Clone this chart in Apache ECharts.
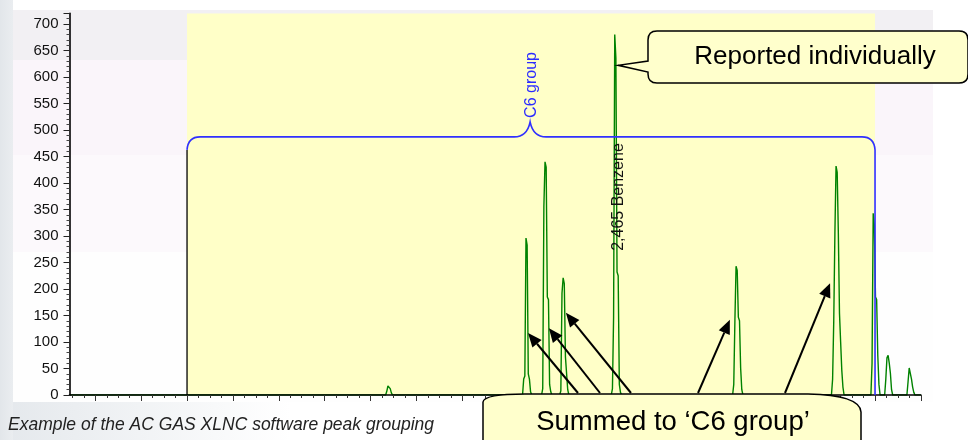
<!DOCTYPE html>
<html>
<head>
<meta charset="utf-8">
<script src="https://cdn.jsdelivr.net/npm/echarts@6/dist/echarts.min.js"></script>
<style>
  html, body { margin: 0; padding: 0; background: #fff; }
  #chart { width: 968px; height: 440px; }
</style>
</head>
<body>
<div id="chart"></div>
<script>
// Retention times (min) of the detected peaks
const peakTimes = [1.481, 2.078, 2.161, 2.240, 2.465, 2.994, 3.430, 3.592, 3.657, 3.749];
// Detector response around each peak, one sample every 0.005 min
const peakProfiles = [
  [0, 7, 17, 18, 12, 4, 0],
  [0, 30, 36, 296, 283, 40, 30, 6, 0],
  [0, 12, 355, 440, 430, 185, 180, 20, 6, 0],
  [0, 8, 192, 221, 210, 72, 70, 10, 0],
  [0, 12, 147, 680, 636, 232, 225, 20, 5, 0],
  [0, 20, 141, 243, 235, 147, 140, 51, 10, 0],
  [0, 30, 140, 305, 432, 420, 305, 154, 100, 47, 15, 0],
  [0, 60, 343, 321, 185, 180, 75, 20, 0],
  [0, 30, 70, 75, 60, 41, 10, 0],
  [0, 25, 51, 48, 30, 15, 5, 0]
];
// Index of the apex sample inside each profile
const apexIndex = [3, 3, 3, 3, 3, 3, 4, 2, 3, 2];
const sampleStep = 0.005;

// Run window (min) and response range
const timeRange = [0.0875, 3.8];
const responseMax = 720;
const yTicks = [0, 50, 100, 150, 200, 250, 300, 350, 400, 450, 500, 550, 600, 650, 700];

// Peak group window and its bracket
const groupName = 'C6 group';
const groupWindow = [0.6, 3.6];
const groupBracketLevel = 487;
const groupLabelTime = 2.096;

// Individually reported compound
const namedPeak = { time: 2.465, name: '2,465 Benzene', labelBase: 272 };
const namedPeakPointer = [2.48, 622];

// Peaks summed into the group, pointed at by the arrows
const summedPointers = [[2.087, 117], [2.178, 126], [2.252, 155], [2.967, 142], [3.404, 211]];

const calloutTop = 'Reported individually';
const calloutBottom = 'Summed to \u2018C6 group\u2019';
const caption = 'Example of the AC GAS XLNC software peak grouping';

// Assemble the trace from the peak samples
const trace = [[timeRange[0], 0]];
peakTimes.forEach((t, i) => {
  peakProfiles[i].forEach((v, j) => {
    trace.push([+(t + (j - apexIndex[i]) * sampleStep).toFixed(4), v]);
  });
});
trace.push([timeRange[1], 0]);

// Plot frame
const plotLeft = 69.5, plotRight = 920.9, plotTop = 13.4, plotBottom = 395;
const W = 968, H = 440;
const pxPerMin = (plotRight - plotLeft) / (timeRange[1] - timeRange[0]);
const font = '"Liberation Sans", Arial, sans-serif';

const chart = echarts.init(document.getElementById('chart'), null, { renderer: 'canvas' });

function gridFrom(t0) {
  return { left: plotLeft + (t0 - timeRange[0]) * pxPerMin, right: W - plotRight, top: plotTop, bottom: H - plotBottom, containLabel: false };
}
function hGradient(stops) {
  return { type: 'linear', x: 0, y: 0, x2: 1, y2: 0, colorStops: stops.map(s => ({ offset: s[0], color: s[1] })) };
}

// Bracket, callouts, arrows and labels, laid out from data coordinates
function renderNotes(params, api) {
  const P = (t, v) => api.coord([t, v]);
  const xL = P(groupWindow[0], 0)[0], xR = P(groupWindow[1], 0)[0];
  const yB = P(0, groupBracketLevel)[1], y0 = P(0, 0)[1];
  const cx = P(groupLabelTime, 0)[0];
  const kids = [];

  kids.push({ type: 'line', shape: { x1: xL, y1: y0, x2: xL, y2: yB + 13 }, style: { stroke: '#000', lineWidth: 1.3 } });
  const bracket = [
    'M', xL, yB + 13, 'Q', xL + 1, yB, xL + 13, yB,
    'L', cx - 16, yB, 'Q', cx - 3, yB, cx, yB - 15, 'Q', cx + 3, yB, cx + 16, yB,
    'L', xR - 13, yB, 'Q', xR - 1, yB, xR, yB + 13, 'L', xR, y0
  ].join(' ');
  kids.push({ type: 'path', shape: { pathData: bracket }, style: { stroke: '#3030ff', lineWidth: 1.6, fill: null } });
  kids.push({ type: 'text', x: cx + 1, y: yB - 19, rotation: Math.PI / 2,
    style: { text: groupName, fill: '#2b2bff', font: '16px ' + font, align: 'left', verticalAlign: 'middle' } });

  const np = P(namedPeak.time, namedPeak.labelBase);
  kids.push({ type: 'text', x: np[0] + 4, y: np[1], rotation: Math.PI / 2,
    style: { text: namedPeak.name, fill: '#111', font: '16px ' + font, align: 'left', verticalAlign: 'middle' } });

  // top callout with pointer
  const tip = P(namedPeakPointer[0], namedPeakPointer[1]);
  const bx = 648, by = 31, bw = W - 648, bh = 52, r = 9;
  const callout = [
    'M', bx + r, by, 'L', bx + bw - r, by, 'Q', bx + bw, by, bx + bw, by + r,
    'L', bx + bw, by + bh - r, 'Q', bx + bw, by + bh, bx + bw - r, by + bh,
    'L', bx + r, by + bh, 'Q', bx, by + bh, bx, by + bh - r,
    'L', bx, 72, 'L', tip[0], tip[1], 'L', bx, 61,
    'L', bx, by + r, 'Q', bx, by, bx + r, by, 'Z'
  ].join(' ');
  kids.push({ type: 'path', shape: { pathData: callout }, style: { fill: '#ffffcc', stroke: '#000', lineWidth: 1.5 } });
  kids.push({ type: 'text', x: 815, y: 57,
    style: { text: calloutTop, fill: '#000', font: '26px ' + font, align: 'center', verticalAlign: 'middle' } });

  // bottom callout
  kids.push({ type: 'path', shape: { pathData: 'M 483 445 L 483 402 Q 484 394 525 394 L 808 394 Q 860 395 861 412 L 861 445 Z' },
    style: { fill: '#ffffcc', stroke: '#000', lineWidth: 1.5 } });
  kids.push({ type: 'text', x: 673, y: 422,
    style: { text: calloutBottom, fill: '#000', font: '27.5px ' + font, align: 'center', verticalAlign: 'middle' } });

  // arrows to the summed peaks
  const arrowStarts = [578, 600, 631, 698, 785];
  summedPointers.forEach((p, i) => {
    const [tx, ty] = P(p[0], p[1]);
    const sx = arrowStarts[i], sy = 393;
    const dx = tx - sx, dy = ty - sy, len = Math.hypot(dx, dy);
    const ux = dx / len, uy = dy / len, hl = 14, hw = 6;
    const hx = tx - ux * hl, hy = ty - uy * hl;
    kids.push({ type: 'line', shape: { x1: sx, y1: sy, x2: hx, y2: hy }, style: { stroke: '#000', lineWidth: 2 } });
    kids.push({ type: 'polygon', shape: { points: [[tx, ty], [hx - uy * hw, hy + ux * hw], [hx + uy * hw, hy - ux * hw]] },
      style: { fill: '#000' } });
  });

  kids.push({ type: 'text', x: 8, y: 425,
    style: { text: caption, fill: '#222', font: 'italic 17.5px ' + font, align: 'left', verticalAlign: 'middle' } });

  return { type: 'group', children: kids };
}

const backdrop = [];
backdrop.push({ type: 'rect', z: -20, shape: { x: 0, y: 402, width: W, height: H - 402 },
  style: { fill: hGradient([[0, '#e4e8ec'], [0.3, '#ffffff']]) } });
backdrop.push({ type: 'rect', z: -20, shape: { x: 0, y: 0, width: 13, height: H },
  style: { fill: hGradient([[0, '#e2e6ea'], [1, '#eaedf0']]) } });
[[10, 60, '#f2f0f3'], [60, 155, '#faf5fa'], [155, 252, '#fcf9fc'], [252, 402, '#fefefe']].forEach(b => {
  backdrop.push({ type: 'rect', z: -19, shape: { x: 13, y: b[0], width: 933 - 13, height: b[1] - b[0] }, style: { fill: b[2] } });
});

chart.setOption({
  animation: false,
  graphic: backdrop,
  grid: [gridFrom(timeRange[0]), gridFrom(0.1), gridFrom(0.2)],
  xAxis: [
    { type: 'value', gridIndex: 0, min: timeRange[0], max: timeRange[1], z: 10,
      axisLine: { show: true, lineStyle: { color: '#000', width: 1.6 } },
      axisTick: { show: false }, axisLabel: { show: false }, splitLine: { show: false } },
    { type: 'value', gridIndex: 1, min: 0.1, max: timeRange[1], interval: 0.05, z: 10,
      axisLine: { show: false }, axisTick: { show: true, length: 3, lineStyle: { color: '#333', width: 1 } },
      axisLabel: { show: false }, splitLine: { show: false } },
    { type: 'value', gridIndex: 2, min: 0.2, max: timeRange[1], interval: 0.2, z: 10,
      axisLine: { show: false }, axisTick: { show: true, length: 6, lineStyle: { color: '#333', width: 1 } },
      axisLabel: { show: false }, splitLine: { show: false } }
  ],
  yAxis: [
    { type: 'value', gridIndex: 0, min: 0, max: responseMax, interval: 50, z: 10,
      axisLine: { show: true, lineStyle: { color: '#000', width: 1.6 } },
      axisTick: { show: true, length: 6, lineStyle: { color: '#222' } },
      minorTick: { show: true, splitNumber: 5, length: 3, lineStyle: { color: '#444' } },
      axisLabel: { show: true, showMaxLabel: false, margin: 11, color: '#111', fontSize: 15, fontFamily: font,
        formatter: v => (yTicks.indexOf(v) >= 0 ? String(v) : '') },
      splitLine: { show: false } },
    { type: 'value', gridIndex: 1, show: false, min: 0, max: responseMax },
    { type: 'value', gridIndex: 2, show: false, min: 0, max: responseMax }
  ],
  series: [
    { type: 'line', xAxisIndex: 0, yAxisIndex: 0, data: [], z: 1, silent: true,
      markArea: { silent: true, itemStyle: { color: '#ffffc8' },
        data: [[{ xAxis: groupWindow[0] }, { xAxis: groupWindow[1] }]] } },
    { type: 'line', xAxisIndex: 0, yAxisIndex: 0, data: trace, z: 3, symbol: 'none', silent: true,
      lineStyle: { color: '#008200', width: 1.4 } },
    { type: 'custom', xAxisIndex: 0, yAxisIndex: 0, z: 20, silent: true, clip: false,
      data: [[0, 0]], renderItem: renderNotes }
  ]
});
</script>
</body>
</html>
